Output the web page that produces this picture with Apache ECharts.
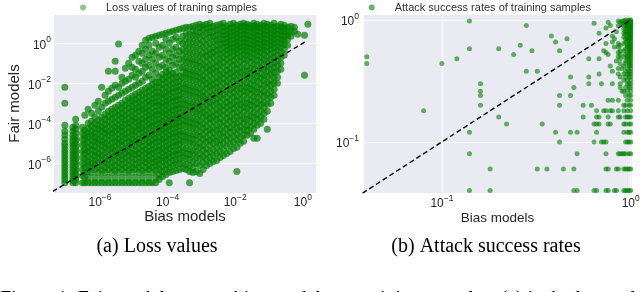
<!DOCTYPE html>
<html><head><meta charset="utf-8">
<script src="https://cdn.jsdelivr.net/npm/echarts@6/dist/echarts.min.js"></script>
<style>html,body{margin:0;padding:0;background:#fff}#c{width:640px;height:292px}</style>
</head><body><div id="c"></div>
<script>
// ---------- (a) Loss values: log10(bias-model loss) per column, with log10(fair-model loss) values ----------
const lossBiasLog10 = [-7.04,-6.8,-6.72,-6.52,-6.45,-6.35,-6.25,-6.15,-6.05,-5.95,-5.85,-5.75,-5.65,-5.55,-5.45,-5.35,-5.25,-5.15,-5.05,-4.95,-4.85,-4.75,-4.65,-4.55,-4.45,-4.35,-4.25,-4.15,-4.05,-3.95,-3.85,-3.75,-3.65,-3.55,-3.45,-3.35,-3.25,-3.15,-3.05,-2.95,-2.85,-2.75,-2.65,-2.55,-2.45,-2.35,-2.25,-2.15,-2.05,-1.95,-1.85,-1.75,-1.65,-1.55,-1.45,-1.35,-1.25,-1.15,-1.05,-0.95,-0.85,-0.75,-0.65,-0.55,-0.45,-0.35,-0.25,-0.15,0.05,0.15];
const lossFairLog10 = [
[-2.2,-3,-4.1,-4.4,-4.6,-4.8,-5,-5.15,-5.3,-5.45,-5.6,-5.75,-5.9,-6.05,-6.2,-6.35,-6.5,-6.65,-6.8,-6.97],
[-4.2,-4.4,-4.6,-4.75,-4.9,-5.05,-5.2,-5.35,-5.5,-5.65,-5.8,-5.95,-6.1,-6.25,-6.4,-6.55,-6.7,-6.85,-6.97],
[-3.8,-4.1,-4.3,-4.5,-4.7,-4.85,-5,-5.15,-5.3,-5.45,-5.6,-5.75,-5.9,-6.05,-6.2,-6.35,-6.5,-6.65,-6.8,-6.97],
[-4.2,-4.5,-4.8,-5.1,-5.4,-5.7,-6,-6.3,-6.6,-6.97],
[-6.97,-6.7,-6.45,-6.2,-6,-5.75,-5.5,-5.3,-5.05,-4.8,-4.6,-4.35,-3.6],
[-6.97,-6.7,-6.4,-6.1,-5.9,-5.65,-5.4,-5.2,-4.95,-4.7,-4.5,-4.25,-4,-3.3],
[-6.97,-6.45,-6.2,-6,-5.8,-5.55,-5.3,-5.1,-4.85,-4.6,-4.4,-4.15,-3.9,-3.5],
[-6.97,-6.7,-6.3,-6.05,-5.85,-5.6,-5.4,-5.15,-4.9,-4.7,-4.5,-4.25,-4,-3.7,-3.1],
[-6.97,-6.45,-6.2,-5.95,-5.7,-5.5,-5.25,-5,-4.8,-4.55,-4.3,-4.1,-3.85,-3.4,-2.9],
[-6.97,-6.7,-6.35,-6.1,-5.85,-5.6,-5.35,-5.1,-4.9,-4.65,-4.4,-4.2,-3.95,-3.7,-3.2,-2.2],
[-6.97,-6.45,-6.2,-5.95,-5.7,-5.45,-5.2,-5,-4.75,-4.5,-4.3,-4.05,-3.8,-3.55,-3,-2.6],
[-6.97,-6.7,-6.3,-6.05,-5.8,-5.55,-5.3,-5.1,-4.85,-4.6,-4.4,-4.15,-3.9,-3.65,-3.4,-2.9,-2.4,-1.4],
[-6.97,-6.45,-6.2,-5.95,-5.7,-5.45,-5.25,-5,-4.75,-4.5,-4.3,-4.05,-3.8,-3.55,-3.3,-2.8,-2.25],
[-6.97,-6.7,-6.35,-6.1,-5.85,-5.6,-5.35,-5.15,-4.9,-4.65,-4.4,-4.2,-3.95,-3.7,-3.45,-3.2,-2.7,-2.1,-1.4,-0.9],
[-6.97,-6.45,-6.2,-5.95,-5.7,-5.5,-5.25,-5,-4.8,-4.55,-4.3,-4.1,-3.85,-3.6,-3.35,-3.1,-2.6,-2.2,-0.03],
[-6.97,-6.7,-6.3,-6.05,-5.8,-5.6,-5.35,-5.1,-4.9,-4.65,-4.4,-4.2,-3.95,-3.7,-3.5,-3.25,-3,-2.5,-2,-1.7],
[-6.97,-6.45,-6.2,-5.95,-5.7,-5.45,-5.25,-5,-4.75,-4.55,-4.3,-4.05,-3.85,-3.6,-3.35,-3.1,-2.85,-2.4,-1.9,-1.25],
[-6.97,-6.7,-6.35,-6.1,-5.85,-5.6,-5.4,-5.15,-4.9,-4.7,-4.45,-4.2,-4,-3.75,-3.5,-3.25,-3,-2.75,-2.3,-1.8,-1],
[-6.97,-6.45,-6.2,-5.95,-5.7,-5.5,-5.25,-5,-4.8,-4.55,-4.35,-4.1,-3.85,-3.65,-3.4,-3.15,-2.9,-2.65,-2.2,-1.6,-1.2,-0.7],
[-6.97,-6.7,-6.3,-6.05,-5.8,-5.55,-5.35,-5.1,-4.9,-4.65,-4.4,-4.2,-3.95,-3.75,-3.5,-3.25,-3,-2.8,-2.55,-2.1,-1.7,-1.3,-0.6],
[-6.97,-6.45,-6.2,-5.95,-5.7,-5.5,-5.25,-5,-4.8,-4.55,-4.3,-4.1,-3.9,-3.65,-3.4,-3.2,-2.95,-2.7,-2.45,-2,-1.5,-0.9,-0.4],
[-6.97,-6.7,-6.35,-6.1,-5.85,-5.6,-5.35,-5.15,-4.9,-4.7,-4.45,-4.25,-4,-3.8,-3.55,-3.3,-3.1,-2.85,-2.6,-2.35,-1.9,-1.4,-1,-0.5,-0.1],
[-6.97,-6.45,-6.2,-5.95,-5.75,-5.5,-5.3,-5.05,-4.8,-4.6,-4.35,-4.15,-3.9,-3.7,-3.45,-3.25,-3,-2.75,-2.5,-2.25,-1.7,-1.2,-0.8,-0.3,0.15],
[-6.97,-6.7,-6.3,-6.1,-5.85,-5.6,-5.4,-5.15,-4.95,-4.7,-4.5,-4.25,-4.05,-3.8,-3.6,-3.35,-3.1,-2.9,-2.65,-2.4,-2.15,-1.6,-1.1,-0.6,-0.1,0.25],
[-6.97,-6.45,-6.2,-5.95,-5.75,-5.5,-5.3,-5.05,-4.85,-4.6,-4.4,-4.15,-3.95,-3.7,-3.5,-3.25,-3,-2.8,-2.55,-2.3,-2.05,-1.8,-1.3,-0.8,-0.4,0.3],
[-6.97,-6.7,-6.35,-6.1,-5.9,-5.65,-5.4,-5.2,-4.95,-4.75,-4.5,-4.3,-4.05,-3.85,-3.6,-3.4,-3.15,-2.95,-2.7,-2.45,-2.2,-1.95,-1.5,-1,-0.5,0,0.35],
[-6.8,-6.55,-6.3,-6.05,-5.8,-5.6,-5.35,-5.15,-4.9,-4.7,-4.45,-4.25,-4,-3.8,-3.55,-3.35,-3.1,-2.9,-2.65,-2.45,-2.2,-1.95,-1.7,-1.2,-0.7,-0.2,0.4],
[-6.65,-6.4,-6.15,-5.9,-5.7,-5.45,-5.25,-5,-4.8,-4.55,-4.35,-4.1,-3.9,-3.65,-3.45,-3.2,-3,-2.75,-2.55,-2.3,-2.05,-1.8,-1.55,-1.1,-0.6,-0.1,0.45],
[-6.55,-6.3,-6.05,-5.8,-5.6,-5.35,-5.15,-4.9,-4.7,-4.45,-4.25,-4,-3.8,-3.55,-3.35,-3.1,-2.9,-2.65,-2.45,-2.2,-1.95,-1.7,-1.45,-1.2,-0.8,-0.3,0.2,0.5],
[-6.97,-6.45,-6.2,-5.95,-5.7,-5.5,-5.25,-5.05,-4.8,-4.6,-4.35,-4.15,-3.9,-3.7,-3.45,-3.25,-3,-2.8,-2.55,-2.35,-2.1,-1.85,-1.6,-1.35,-0.9,-0.5,0,0.55],
[-6.4,-6.1,-5.85,-5.6,-5.4,-5.15,-4.95,-4.7,-4.5,-4.25,-4.05,-3.8,-3.6,-3.35,-3.15,-2.9,-2.7,-2.45,-2.25,-2,-1.75,-1.5,-1.1,-0.7,-0.3,0.2,0.6],
[-6.35,-6.05,-5.8,-5.55,-5.35,-5.1,-4.9,-4.65,-4.45,-4.2,-4,-3.75,-3.55,-3.3,-3.1,-2.85,-2.65,-2.4,-2.2,-1.95,-1.7,-1.45,-1,-0.6,-0.2,0.3,0.65],
[-6.3,-6,-5.75,-5.5,-5.3,-5.05,-4.85,-4.6,-4.4,-4.15,-3.95,-3.7,-3.5,-3.25,-3.05,-2.8,-2.6,-2.35,-2.15,-1.9,-1.65,-1.2,-0.8,-0.4,0.1,0.7],
[-6.25,-6,-5.7,-5.45,-5.2,-4.9,-4.65,-4.4,-4.1,-3.85,-3.6,-3.3,-3.05,-2.8,-2.5,-2.25,-2,-1.7,-1.45,-1.2,-0.9,-0.6,-0.3,0,0.35,0.75],
[-6.3,-6.05,-5.75,-5.5,-5.25,-4.95,-4.7,-4.45,-4.15,-3.9,-3.65,-3.35,-3.1,-2.85,-2.55,-2.3,-2.05,-1.75,-1.5,-1.25,-0.95,-0.7,-0.4,-0.1,0.2,0.5,0.8],
[-6.97,-6.4,-6.1,-5.8,-5.55,-5.3,-5,-4.75,-4.5,-4.2,-3.95,-3.7,-3.4,-3.15,-2.9,-2.6,-2.35,-2.1,-1.8,-1.55,-1.3,-1,-0.75,-0.45,-0.15,0.15,0.45,0.8],
[-6.45,-6.2,-5.9,-5.6,-5.35,-5.05,-4.8,-4.55,-4.25,-4,-3.75,-3.45,-3.2,-2.95,-2.65,-2.4,-2.15,-1.85,-1.6,-1.35,-1.05,-0.8,-0.5,-0.2,0.1,0.4,0.65,0.85],
[-6.4,-6,-5.7,-5.4,-5.15,-4.85,-4.6,-4.3,-4.05,-3.8,-3.5,-3.25,-3,-2.7,-2.45,-2.2,-1.9,-1.65,-1.4,-1.1,-0.85,-0.55,-0.25,0.05,0.35,0.6,0.9],
[-6.5,-6.1,-5.75,-5.5,-5.2,-4.95,-4.65,-4.4,-4.1,-3.85,-3.55,-3.3,-3.05,-2.75,-2.5,-2.25,-1.95,-1.7,-1.45,-1.15,-0.9,-0.6,-0.3,0,0.3,0.55,0.8,0.95],
[-6.3,-5.95,-5.65,-5.35,-5.1,-4.8,-4.55,-4.25,-4,-3.7,-3.45,-3.2,-2.9,-2.65,-2.4,-2.1,-1.85,-1.6,-1.3,-1.05,-0.75,-0.5,-0.2,0.1,0.4,0.7,0.9],
[-6.1,-5.8,-5.5,-5.25,-4.95,-4.7,-4.4,-4.15,-3.85,-3.6,-3.35,-3.05,-2.8,-2.55,-2.25,-2,-1.75,-1.45,-1.2,-0.95,-0.65,-0.4,-0.1,0.2,0.5,0.75,0.95],
[-6,-5.7,-5.4,-5.1,-4.85,-4.55,-4.3,-4,-3.75,-3.5,-3.2,-2.95,-2.7,-2.4,-2.15,-1.9,-1.6,-1.35,-1.1,-0.8,-0.55,-0.3,0,0.3,0.55,0.8,1],
[-5.9,-5.6,-5.3,-5,-4.75,-4.45,-4.2,-3.9,-3.65,-3.4,-3.1,-2.85,-2.6,-2.3,-2.05,-1.8,-1.5,-1.25,-1,-0.7,-0.45,-0.2,0.1,0.35,0.6,0.85],
[-5.85,-5.5,-5.2,-4.9,-4.65,-4.35,-4.1,-3.8,-3.55,-3.3,-3,-2.75,-2.5,-2.2,-1.95,-1.7,-1.4,-1.15,-0.9,-0.6,-0.35,-0.1,0.15,0.4,0.65,0.9],
[-5.7,-5.4,-5.1,-4.85,-4.55,-4.3,-4,-3.75,-3.45,-3.2,-2.95,-2.65,-2.4,-2.15,-1.85,-1.6,-1.35,-1.05,-0.8,-0.55,-0.3,-0.05,0.2,0.45,0.7,0.95],
[-5.6,-5.3,-5,-4.7,-4.45,-4.15,-3.9,-3.6,-3.35,-3.1,-2.8,-2.55,-2.3,-2,-1.75,-1.5,-1.2,-0.95,-0.7,-0.45,-0.2,0,0.2,0.4,0.6,0.8,1],
[-5.5,-5.15,-4.85,-4.6,-4.3,-4.05,-3.75,-3.5,-3.2,-2.95,-2.7,-2.4,-2.15,-1.9,-1.6,-1.35,-1.1,-0.8,-0.55,-0.35,-0.15,0.05,0.25,0.45,0.65,0.85],
[-5.4,-5.05,-4.75,-4.45,-4.2,-3.9,-3.65,-3.35,-3.1,-2.85,-2.55,-2.3,-2.05,-1.75,-1.5,-1.25,-0.95,-0.7,-0.45,-0.25,-0.05,0.15,0.35,0.55,0.75,0.95],
[-5.25,-4.95,-4.65,-4.35,-4.05,-3.8,-3.5,-3.25,-3,-2.7,-2.45,-2.2,-1.9,-1.65,-1.4,-1.1,-0.85,-0.6,-0.4,-0.2,0,0.2,0.4,0.6,0.8,1],
[-6.4,-5.2,-4.85,-4.55,-4.25,-4,-3.7,-3.45,-3.15,-2.9,-2.65,-2.35,-2.1,-1.85,-1.55,-1.3,-1.05,-0.75,-0.5,-0.3,-0.1,0.1,0.3,0.5,0.7,0.9],
[-5,-4.7,-4.4,-4.15,-3.85,-3.6,-3.3,-3.05,-2.8,-2.5,-2.25,-2,-1.7,-1.45,-1.2,-0.9,-0.65,-0.4,-0.2,0,0.2,0.4,0.6,0.8,0.95],
[-4.9,-4.6,-4.3,-4,-3.75,-3.45,-3.2,-2.95,-2.65,-2.4,-2.15,-1.85,-1.6,-1.35,-1.05,-0.8,-0.55,-0.35,-0.15,0.05,0.25,0.45,0.65,0.85,1],
[-4.6,-4.35,-4.1,-3.8,-3.55,-3.25,-3,-2.75,-2.45,-2.2,-1.95,-1.65,-1.4,-1.15,-0.85,-0.6,-0.4,-0.2,0,0.2,0.4,0.6,0.8,0.95],
[-4.5,-4.2,-3.9,-3.65,-3.35,-3.1,-2.85,-2.55,-2.3,-2.05,-1.75,-1.5,-1.25,-0.95,-0.7,-0.45,-0.25,-0.05,0.15,0.35,0.55,0.75,0.9],
[-4.75,-4.3,-4,-3.7,-3.45,-3.15,-2.9,-2.65,-2.35,-2.1,-1.85,-1.55,-1.3,-1.05,-0.75,-0.5,-0.3,-0.1,0.1,0.3,0.5,0.7,0.85,1],
[-4.75,-4.1,-3.8,-3.55,-3.25,-3,-2.7,-2.45,-2.2,-1.9,-1.65,-1.4,-1.1,-0.85,-0.6,-0.4,-0.2,0,0.2,0.4,0.6,0.8,0.95],
[-4,-3.7,-3.4,-3.1,-2.85,-2.55,-2.3,-2.05,-1.75,-1.5,-1.25,-0.95,-0.7,-0.45,-0.25,-0.05,0.15,0.35,0.55,0.75,0.9],
[-3.8,-3.5,-3.2,-2.95,-2.65,-2.4,-2.1,-1.85,-1.6,-1.3,-1.05,-0.8,-0.55,-0.35,-0.15,0.05,0.25,0.45,0.65,0.85,1],
[-4.3,-3.4,-3.05,-2.75,-2.5,-2.2,-1.95,-1.65,-1.4,-1.15,-0.9,-0.65,-0.4,-0.2,0,0.2,0.4,0.6,0.8,0.95],
[-3,-2.7,-2.4,-2.1,-1.85,-1.55,-1.3,-1.05,-0.8,-0.55,-0.3,-0.1,0.1,0.3,0.5,0.7,0.9],
[-2.6,-2.3,-2,-1.7,-1.45,-1.2,-0.95,-0.7,-0.45,-0.2,0,0.2,0.4,0.6,0.8,1],
[-2,-1.7,-1.4,-1.1,-0.85,-0.6,-0.35,-0.15,0.05,0.25,0.45,0.65,0.85],
[-1.3,-1,-0.7,-0.45,-0.2,0,0.2,0.4,0.6,0.8,0.95],
[-0.6,-0.3,-0.05,0.15,0.35,0.55,0.75,0.9],
[-0.1,0.2,0.4,0.6,0.8],
[0.35,0.55,0.85],
[0.6,0.8],
[0.45],
[-1.6,0.4],
[0.95]
];
const lossDiagonal = [4e-8, 1.15];
const lossTickExps = [-6, -4, -2, 0];

// ---------- (b) Attack success rates ----------
const asrPoints = [
[0.04,0.50],[0.04,0.44],[0.08,0.18],[0.10,0.44],[0.12,0.48],
[0.14,0.98],[0.14,0.58],[0.14,0.12],[0.14,0.08],[0.14,0.04],
[0.16,0.30],[0.16,0.26],[0.16,0.24],[0.16,0.20],[0.18,0.06],[0.18,0.04],
[0.20,0.58],[0.20,0.16],[0.22,0.14],[0.24,0.52],[0.26,0.62],[0.28,0.90],[0.28,0.38],[0.30,0.56],
[0.32,0.38],[0.32,0.06],[0.34,0.14],[0.36,0.06],[0.38,0.74],[0.40,0.66],[0.40,0.12],
[0.42,0.56],[0.42,0.24],[0.42,0.20],[0.42,0.10],[0.44,0.06],[0.46,0.70],[0.48,0.24],[0.48,0.34],[0.48,0.12],
[0.50,0.28],[0.52,0.08],[0.52,0.12],[0.50,0.04],[0.52,0.04],[0.50,0.06],
[0.56,0.20],[0.56,0.16],[0.60,0.48],[0.60,0.34],[0.60,0.30],[0.62,0.20],
[0.64,0.94],[0.64,0.14],[0.64,0.10],[0.64,0.04],[0.66,0.04],[0.66,0.18],[0.66,0.16],[0.66,0.12],
[0.68,0.78],[0.68,0.48],[0.68,0.36],[0.70,0.30],[0.72,0.56],[0.72,0.10],[0.74,0.18],
[0.76,0.96],[0.78,0.90],[0.74,0.86],[0.86,0.98],[0.88,0.96],[0.86,0.90],[0.80,0.74],[0.74,0.64],
[0.86,0.64],[0.86,0.60],[0.74,0.54],[0.76,0.52],[0.88,0.56],[0.88,0.52],[0.78,0.42],[0.80,0.38],
[0.86,0.36],[0.80,0.30],[0.88,0.30],[0.88,0.28],[0.90,0.26],[0.76,0.22],[0.80,0.22],[0.86,0.22],
[0.72,0.18],[0.78,0.18],[0.80,0.18],[0.86,0.18],[0.68,0.16],[0.76,0.16],[0.86,0.16],[0.88,0.16],
[0.66,0.14],[0.68,0.14],[0.76,0.14],[0.78,0.14],[0.70,0.10],[0.74,0.10],[0.74,0.08],[0.86,0.08],
[0.88,0.08],[0.90,0.08],[0.74,0.06],[0.76,0.06],[0.84,0.06],[0.86,0.06],[0.74,0.04],[0.76,0.04],
[0.82,0.04],[0.84,0.04],[0.82,0.70],[0.84,0.80],[0.82,0.60],[0.80,0.66],[0.84,0.46],[0.86,0.50],
[0.88,0.44],[0.90,0.40],[0.88,0.62],[0.86,0.54],[0.88,0.48],[0.86,0.40],[0.88,0.34],[0.90,0.98],[0.90,0.94]
];
const asrColumnBias = [1.00, 0.98, 0.96, 0.94, 0.92];
const asrColumnFair = [
[1,0.98,0.96,0.94,0.92,0.9,0.88,0.86,0.84,0.82,0.8,0.78,0.76,0.74,0.72,0.7,0.68,0.66,0.64,0.62,0.6,0.58,0.56,0.54,0.52,0.5,0.48,0.46,0.44,0.42,0.4,0.38,0.36,0.34,0.32,0.3,0.28,0.26,0.24,0.22,0.2,0.18,0.16,0.14,0.12,0.1,0.08,0.06,0.04],
[1,0.96,0.92,0.9,0.86,0.84,0.8,0.76,0.74,0.7,0.68,0.64,0.6,0.58,0.56,0.52,0.5,0.46,0.44,0.42,0.38,0.36,0.34,0.3,0.28,0.24,0.2,0.16,0.14,0.12,0.1,0.08,0.06,0.04],
[0.98,0.94,0.9,0.88,0.82,0.78,0.72,0.68,0.62,0.6,0.54,0.5,0.48,0.4,0.36,0.32,0.3,0.26,0.22,0.18,0.16,0.12,0.1,0.06,0.04],
[1,0.96,0.92,0.86,0.8,0.76,0.7,0.66,0.58,0.52,0.46,0.44,0.38,0.34,0.28,0.24,0.2,0.16,0.14,0.1,0.08,0.06,0.04],
[0.98,0.9,0.84,0.78,0.72,0.64,0.56,0.5,0.42,0.36,0.32,0.26,0.2,0.18,0.14,0.12,0.08,0.06,0.04]
];
const asrDiagonal = [0.038, 1];
const asrTickExps = [-1, 0];

// ---------- build series data ----------
const lossData = [];
lossBiasLog10.forEach((bx, i) => lossFairLog10[i].forEach(fy => lossData.push([Math.pow(10, bx), Math.pow(10, fy)])));
const asrData = asrPoints.slice();
asrColumnBias.forEach((bx, i) => asrColumnFair[i].forEach(fy => asrData.push([bx, fy])));

const FONT = 'Liberation Sans';
const TXT = '#262626';
function supLabel(ticks) {
  return function (v) {
    const l = Math.log10(v), e = Math.round(l);
    if (Math.abs(l - e) > 1e-6 || ticks.indexOf(e) < 0) return '';
    return '{b|10}{s|' + (e < 0 ? '\u2212' + (-e) : e) + '}';
  };
}
const rich = {
  b: { fontSize: 12, lineHeight: 16, verticalAlign: 'bottom', color: TXT, fontFamily: FONT },
  s: { fontSize: 8.5, lineHeight: 8, verticalAlign: 'top', color: TXT, fontFamily: FONT }
};
function axis(opts) {
  return Object.assign({
    type: 'log',
    axisLine: { show: false }, axisTick: { show: false },
    splitLine: { show: true, lineStyle: { color: '#ffffff', width: 1.2 } },
    nameLocation: 'middle',
    nameMoveOverlap: false,
    nameTextStyle: { fontSize: 15, color: TXT, fontFamily: FONT }
  }, opts);
}

const chart = echarts.init(document.getElementById('c'), null, { renderer: 'canvas' });
chart.setOption({
  animation: false,
  backgroundColor: '#ffffff',
  grid: [
    { left: 54, top: 14, width: 262, height: 179, show: true, backgroundColor: '#EAEAF2', borderWidth: 0, containLabel: false, outerBoundsMode: 'none' },
    { left: 363, top: 14, width: 269, height: 179, show: true, backgroundColor: '#EAEAF2', borderWidth: 0, containLabel: false, outerBoundsMode: 'none' }
  ],
  xAxis: [
    axis({ gridIndex: 0, logBase: 100, min: Math.pow(10, -7.36), max: Math.pow(10, 0.39),
      splitLine: { show: false },
      axisLabel: { formatter: supLabel(lossTickExps), rich: rich, margin: 0 },
      name: 'Bias models', nameGap: 16 }),
    axis({ gridIndex: 1, logBase: 10, min: Math.pow(10, -1.418), max: Math.pow(10, 0.007),
      axisLabel: { formatter: supLabel(asrTickExps), rich: rich, margin: 1 },
      name: 'Bias models', nameGap: 18, nameTextStyle: { fontSize: 13.5, color: TXT, fontFamily: FONT } })
  ],
  yAxis: [
    axis({ gridIndex: 0, logBase: 100, min: Math.pow(10, -7.48), max: Math.pow(10, 1.465),
      axisLabel: { formatter: supLabel(lossTickExps), rich: rich, margin: 3 },
      name: 'Fair models', nameGap: 32 }),
    axis({ gridIndex: 1, logBase: 10, min: Math.pow(10, -1.419), max: Math.pow(10, 0.049),
      axisLabel: { formatter: supLabel(asrTickExps), rich: rich, margin: 4 } })
  ],
  legend: [
    { data: ['Loss values of traning samples'], left: 80, top: 2, padding: 0, itemWidth: 6, itemHeight: 6, icon: 'circle',
      itemStyle: { opacity: 0.45 }, textStyle: { fontSize: 11, color: '#333333', fontFamily: FONT, padding: [0, 0, 0, 15] }, selectedMode: false },
    { data: ['Attack success rates of training samples'], left: 368.7, top: 2, padding: 0, itemWidth: 6, itemHeight: 6, icon: 'circle',
      itemStyle: { opacity: 0.6 }, textStyle: { fontSize: 11, color: '#333333', fontFamily: FONT, padding: [0, 0, 0, 15] }, selectedMode: false }
  ],
  series: [
    { name: 'Loss values of traning samples', type: 'scatter', xAxisIndex: 0, yAxisIndex: 0, data: lossData,
      symbolSize: 7, itemStyle: { color: '#008000', opacity: 0.7 }, progressive: 0, large: false, silent: true },
    { type: 'line', xAxisIndex: 0, yAxisIndex: 0, data: lossDiagonal.map(v => [v, v]), symbol: 'none', clip: true,
      lineStyle: { color: '#000000', width: 1.4, type: [5, 3] }, z: 5, silent: true },
    { name: 'Attack success rates of training samples', type: 'scatter', xAxisIndex: 1, yAxisIndex: 1, data: asrData,
      symbolSize: 5, itemStyle: { color: '#008000', opacity: 0.6 }, progressive: 0, large: false, silent: true },
    { type: 'line', xAxisIndex: 1, yAxisIndex: 1, data: asrDiagonal.map(v => [v, v]), symbol: 'none', clip: true,
      lineStyle: { color: '#000000', width: 1.4, type: [5, 3] }, z: 5, silent: true }
  ],
  graphic: [
    { type: 'text', x: 157, y: 247, style: { text: '(a) Loss values', font: '20px "Liberation Serif"', fill: '#000', align: 'center', verticalAlign: 'middle' } },
    { type: 'text', x: 486, y: 247, style: { text: '(b) Attack success rates', font: '20px "Liberation Serif"', fill: '#000', align: 'center', verticalAlign: 'middle' } },
    { type: 'text', x: 0, y: 290, style: { text: 'Figure 1: Fair models versus bias models on training samples. (a) is the loss values and (b) is the', font: '20px "Liberation Serif"', fill: '#000', align: 'left', verticalAlign: 'top' } }
  ]
});
</script>
</body></html>
